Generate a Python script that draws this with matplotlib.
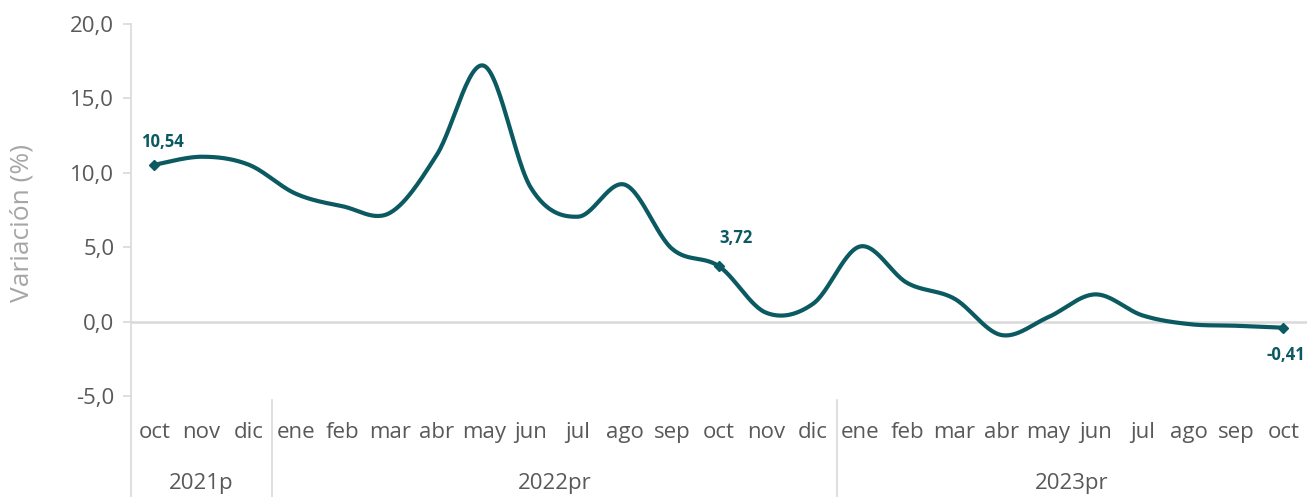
# Variación porcentual mensual - oct 2021 a oct 2023
# Línea suavizada (estilo Excel) con eje X de dos niveles (mes / año)

import numpy as np
import matplotlib
matplotlib.use("Agg")
import matplotlib.pyplot as plt
import matplotlib.transforms as mtransforms

plt.rcParams["font.family"] = ["Open Sans", "DejaVu Sans"]

# --- Datos ---
meses = ["oct", "nov", "dic",
         "ene", "feb", "mar", "abr", "may", "jun", "jul", "ago", "sep", "oct", "nov", "dic",
         "ene", "feb", "mar", "abr", "may", "jun", "jul", "ago", "sep", "oct"]
anios = ["2021p", "2022pr", "2023pr"]
meses_por_anio = [3, 12, 10]
variacion = [10.54, 11.08, 10.55,
             8.6, 7.75, 7.3, 11.2, 17.2, 9.0, 7.05, 9.2, 4.9, 3.72, 0.6, 1.2,
             5.05, 2.6, 1.55, -0.9, 0.3, 1.83, 0.42, -0.17, -0.28, -0.41]
etiquetas = {0: "10,54", 12: "3,72", 24: "-0,41"}

COLOR_LINEA = "#0b5a61"
GRIS_TEXTO = "#595959"
GRIS_EJE = "#d9d9d9"


def suavizar(x, y, n=30):
    """Curva tipo Excel: Bezier cúbica con puntos de control Catmull-Rom."""
    px = np.concatenate([[x[0]], x, [x[-1]]])
    py = np.concatenate([[y[0]], y, [y[-1]]])
    xs, ys = [], []
    t = np.linspace(0, 1, n)
    for i in range(1, len(px) - 2):
        p0, p1, p2, p3 = (np.array([px[j], py[j]]) for j in (i - 1, i, i + 1, i + 2))
        c1 = p1 + (p2 - p0) / 6
        c2 = p2 - (p3 - p1) / 6
        b = (((1 - t) ** 3)[:, None] * p1 + (3 * (1 - t) ** 2 * t)[:, None] * c1
             + (3 * (1 - t) * t ** 2)[:, None] * c2 + (t ** 3)[:, None] * p2)
        xs.append(b[:, 0])
        ys.append(b[:, 1])
    return np.concatenate(xs), np.concatenate(ys)


x = np.arange(len(variacion), dtype=float)
y = np.array(variacion)

fig = plt.figure(figsize=(13.07, 4.97), dpi=100)
ax = fig.add_axes([0.1002, 0.2032, 0.8998, 0.7485])

xs, ys = suavizar(x, y)
ax.plot(xs, ys, color=COLOR_LINEA, lw=3, solid_capstyle="round", zorder=3)

# línea del cero
ax.axhline(0, color=GRIS_EJE, lw=1.8, zorder=1)

# marcadores y etiquetas de datos (desplazamiento en píxeles)
desplaz = {0: (8, 23), 12: (17, 28), 24: (2, -27)}
for i, txt in etiquetas.items():
    ax.plot(x[i], y[i], marker="D", ms=5, color=COLOR_LINEA, zorder=4)
    dx, dy = desplaz[i]
    ax.annotate(txt, (x[i], y[i]), xytext=(dx, dy), textcoords="offset pixels",
                ha="center", va="center", fontsize=12, fontweight="bold",
                color=COLOR_LINEA)

ax.set_xlim(-0.5, len(variacion) - 0.5)
ax.set_ylim(-5, 20)
ax.set_yticks(np.arange(-5, 20.1, 5))
ax.set_yticklabels([f"{v:.1f}".replace(".", ",") for v in np.arange(-5, 20.1, 5)])
ax.tick_params(axis="y", colors=GRIS_EJE, labelcolor=GRIS_TEXTO, labelsize=16,
               length=6, width=1.2, pad=6)
ax.set_xticks([])
ax.set_ylabel("Variación (%)", fontsize=19, color="#a6a6a6")
ax.yaxis.set_label_coords(-0.082, 0.465)

for lado in ["top", "right", "bottom"]:
    ax.spines[lado].set_visible(False)
ax.spines["left"].set_color(GRIS_EJE)
ax.spines["left"].set_linewidth(1.2)

# eje X de dos niveles
trans = mtransforms.blended_transform_factory(ax.transData, ax.transAxes)
fondo = -0.205 / 0.7485  # borde inferior de la figura en coordenadas del eje
ax.plot([-0.5, -0.5], [0, fondo], transform=trans, color=GRIS_EJE, lw=1.2, clip_on=False)
for i, m in enumerate(meses):
    ax.text(i, -0.097, m, transform=trans, ha="center", va="center",
            fontsize=16, color=GRIS_TEXTO)

inicio = 0
for anio, n in zip(anios, meses_por_anio):
    centro = inicio + (n - 1) / 2
    ax.text(centro, -0.234, anio, transform=trans, ha="center", va="center",
            fontsize=16, color=GRIS_TEXTO)
    inicio += n
    if inicio < len(meses):
        ax.plot([inicio - 0.5, inicio - 0.5], [-0.01, fondo], transform=trans,
                color=GRIS_EJE, lw=1.2, clip_on=False)

fig.savefig("out.png", dpi=100)
